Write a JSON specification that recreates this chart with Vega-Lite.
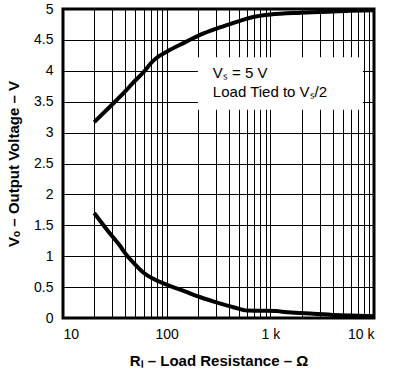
{
  "$schema": "https://vega.github.io/schema/vega-lite/v6.json",
  "width": 311,
  "height": 309,
  "autosize": {"type": "none"},
  "padding": {"left": 63, "top": 9, "right": 26, "bottom": 51},
  "config": {
    "font": "Liberation Sans",
    "view": {"stroke": "black", "strokeWidth": 3},
    "axis": {
      "grid": true,
      "gridColor": "black",
      "gridOpacity": 1,
      "gridWidth": 1,
      "domain": false,
      "ticks": false,
      "labelFont": "Liberation Sans",
      "labelFontSize": 14,
      "labelColor": "black",
      "titleFont": "Liberation Sans",
      "titleFontSize": 15,
      "titleFontWeight": "bold",
      "titleColor": "black"
    }
  },
  "datasets": {
    "curves": [
      {"series": "high", "R": 20, "V": 3.17},
      {"series": "high", "R": 28, "V": 3.41},
      {"series": "high", "R": 40, "V": 3.67},
      {"series": "high", "R": 47, "V": 3.8},
      {"series": "high", "R": 60, "V": 3.98},
      {"series": "high", "R": 72, "V": 4.14},
      {"series": "high", "R": 85, "V": 4.24},
      {"series": "high", "R": 100, "V": 4.31},
      {"series": "high", "R": 150, "V": 4.46},
      {"series": "high", "R": 210, "V": 4.58},
      {"series": "high", "R": 300, "V": 4.68},
      {"series": "high", "R": 435, "V": 4.77},
      {"series": "high", "R": 680, "V": 4.87},
      {"series": "high", "R": 1000, "V": 4.91},
      {"series": "high", "R": 2000, "V": 4.94},
      {"series": "high", "R": 4000, "V": 4.96},
      {"series": "high", "R": 6000, "V": 4.97},
      {"series": "high", "R": 10000, "V": 4.98},
      {"series": "low", "R": 20, "V": 1.7},
      {"series": "low", "R": 28, "V": 1.38},
      {"series": "low", "R": 35, "V": 1.18},
      {"series": "low", "R": 41, "V": 1.02},
      {"series": "low", "R": 50, "V": 0.86},
      {"series": "low", "R": 59, "V": 0.74},
      {"series": "low", "R": 75, "V": 0.63},
      {"series": "low", "R": 100, "V": 0.54},
      {"series": "low", "R": 150, "V": 0.43},
      {"series": "low", "R": 209, "V": 0.34},
      {"series": "low", "R": 280, "V": 0.27},
      {"series": "low", "R": 350, "V": 0.22},
      {"series": "low", "R": 450, "V": 0.17},
      {"series": "low", "R": 595, "V": 0.12},
      {"series": "low", "R": 800, "V": 0.118},
      {"series": "low", "R": 1150, "V": 0.115},
      {"series": "low", "R": 1300, "V": 0.1},
      {"series": "low", "R": 2000, "V": 0.08},
      {"series": "low", "R": 4000, "V": 0.05},
      {"series": "low", "R": 6000, "V": 0.04},
      {"series": "low", "R": 10000, "V": 0.03}
    ],
    "box": [
      {"R": 200, "R2": 7800, "V": 3.37, "V2": 4.22}
    ],
    "notes": [
      {"R": 279, "V": 3.88, "label": "Vₛ = 5 V"},
      {"R": 279, "V": 3.57, "label": "Load Tied to Vₛ/2"}
    ]
  },
  "encoding": {
    "x": {
      "field": "R",
      "type": "quantitative",
      "scale": {"type": "log", "domain": [10, 10000]},
      "axis": {
        "title": "Rₗ – Load Resistance – Ω",
        "values": [10, 20, 30, 40, 50, 60, 70, 80, 90, 100, 200, 300, 400, 500, 600, 700, 800, 900, 1000, 2000, 3000, 4000, 5000, 6000, 7000, 8000, 9000, 10000],
        "labelExpr": "datum.value == 10 ? '10' : datum.value == 100 ? '100' : datum.value == 1000 ? '1 k' : datum.value == 10000 ? '10 k' : ''",
        "labelOverlap": false,
        "labelPadding": 9,
        "labelDx": 5,
        "titlePadding": 12
      }
    },
    "y": {
      "field": "V",
      "type": "quantitative",
      "scale": {"domain": [0, 5]},
      "axis": {
        "title": "Vₒ – Output Voltage – V",
        "values": [0, 0.5, 1, 1.5, 2, 2.5, 3, 3.5, 4, 4.5, 5],
        "labelExpr": "format(datum.value, '~g')",
        "labelOverlap": false,
        "labelPadding": 10,
        "titlePadding": 12
      }
    }
  },
  "layer": [
    {
      "data": {"name": "box"},
      "mark": {"type": "rect", "fill": "white", "stroke": null},
      "encoding": {
        "x2": {"field": "R2"},
        "y2": {"field": "V2"}
      }
    },
    {
      "data": {"name": "notes"},
      "mark": {"type": "text", "align": "left", "baseline": "alphabetic", "fontSize": 15, "font": "Liberation Sans", "color": "black"},
      "encoding": {
        "text": {"field": "label"}
      }
    },
    {
      "data": {"name": "curves"},
      "mark": {"type": "line", "color": "black", "strokeWidth": 4, "interpolate": "monotone", "strokeCap": "butt"},
      "encoding": {
        "detail": {"field": "series"}
      }
    }
  ]
}
